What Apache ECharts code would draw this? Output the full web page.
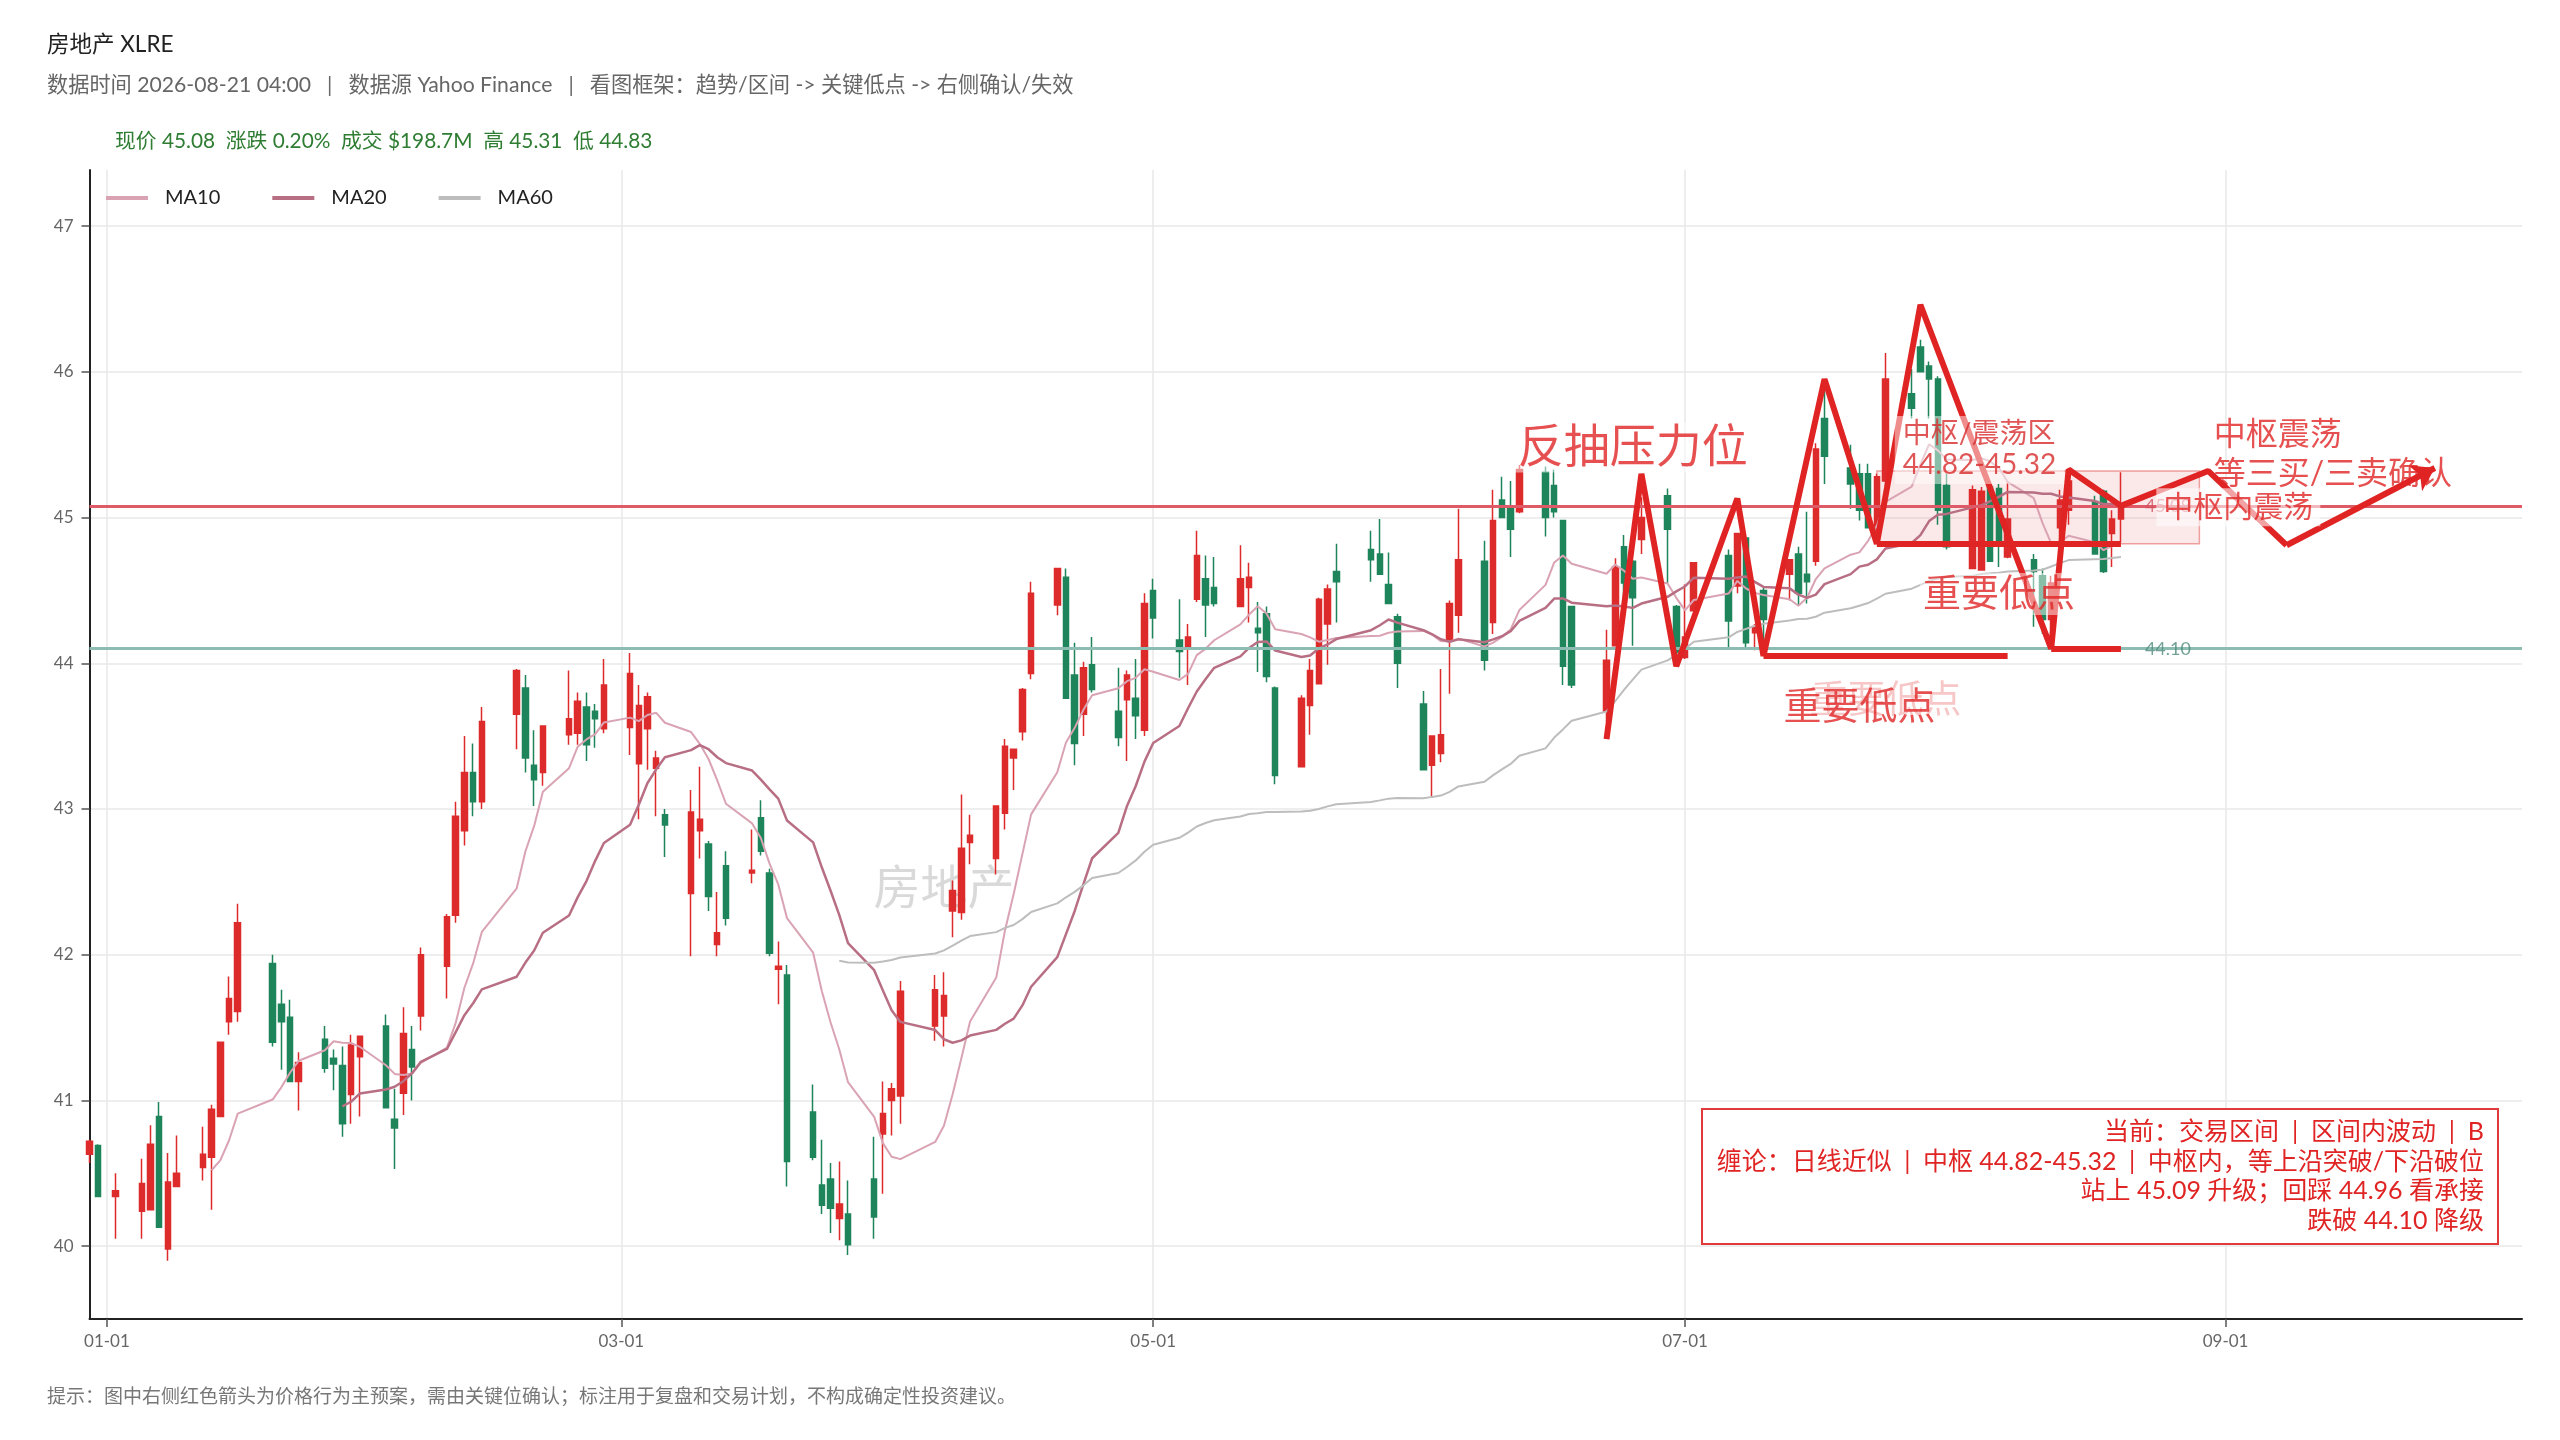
<!DOCTYPE html>
<html><head><meta charset="utf-8">
<script src="https://cdn.jsdelivr.net/npm/echarts@6/dist/echarts.min.js"></script>
<style>html,body{margin:0;padding:0;background:#fff}#c{width:2560px;height:1440px}</style>
</head><body><div id="c"></div>
<script>
// ---------- data ----------
const dates = ['2025-12-30','2025-12-31','2026-01-02','2026-01-05','2026-01-06','2026-01-07','2026-01-08','2026-01-09','2026-01-12','2026-01-13','2026-01-14','2026-01-15','2026-01-16','2026-01-20','2026-01-21','2026-01-22','2026-01-23','2026-01-26','2026-01-27','2026-01-28','2026-01-29','2026-01-30','2026-02-02','2026-02-03','2026-02-04','2026-02-05','2026-02-06','2026-02-09','2026-02-10','2026-02-11','2026-02-12','2026-02-13','2026-02-17','2026-02-18','2026-02-19','2026-02-20','2026-02-23','2026-02-24','2026-02-25','2026-02-26','2026-02-27','2026-03-02','2026-03-03','2026-03-04','2026-03-05','2026-03-06','2026-03-09','2026-03-10','2026-03-11','2026-03-12','2026-03-13','2026-03-16','2026-03-17','2026-03-18','2026-03-19','2026-03-20','2026-03-23','2026-03-24','2026-03-25','2026-03-26','2026-03-27','2026-03-30','2026-03-31','2026-04-01','2026-04-02','2026-04-06','2026-04-07','2026-04-08','2026-04-09','2026-04-10','2026-04-13','2026-04-14','2026-04-15','2026-04-16','2026-04-17','2026-04-20','2026-04-21','2026-04-22','2026-04-23','2026-04-24','2026-04-27','2026-04-28','2026-04-29','2026-04-30','2026-05-01','2026-05-04','2026-05-05','2026-05-06','2026-05-07','2026-05-08','2026-05-11','2026-05-12','2026-05-13','2026-05-14','2026-05-15','2026-05-18','2026-05-19','2026-05-20','2026-05-21','2026-05-22','2026-05-26','2026-05-27','2026-05-28','2026-05-29','2026-06-01','2026-06-02','2026-06-03','2026-06-04','2026-06-05','2026-06-08','2026-06-09','2026-06-10','2026-06-11','2026-06-12','2026-06-15','2026-06-16','2026-06-17','2026-06-18','2026-06-22','2026-06-23','2026-06-24','2026-06-25','2026-06-26','2026-06-29','2026-06-30','2026-07-01','2026-07-02','2026-07-06','2026-07-07','2026-07-08','2026-07-09','2026-07-10','2026-07-13','2026-07-14','2026-07-15','2026-07-16','2026-07-17','2026-07-20','2026-07-21','2026-07-22','2026-07-23','2026-07-24','2026-07-27','2026-07-28','2026-07-29','2026-07-30','2026-07-31','2026-08-03','2026-08-04','2026-08-05','2026-08-06','2026-08-07','2026-08-10','2026-08-11','2026-08-12','2026-08-13','2026-08-14','2026-08-17','2026-08-18','2026-08-19','2026-08-20'];
const opens = [40.63,40.69,40.34,40.24,40.25,40.89,39.98,40.41,40.54,40.61,40.89,41.54,41.61,41.94,41.66,41.57,41.13,41.42,41.29,41.24,41.04,41.30,41.51,40.87,41.05,41.35,41.58,41.92,42.27,42.85,43.25,43.05,43.65,43.83,43.30,43.25,43.51,43.52,43.70,43.67,43.55,43.56,43.31,43.55,43.28,42.96,42.42,42.85,42.76,42.07,42.61,42.56,42.94,42.56,41.90,41.86,40.92,40.42,40.46,40.19,40.22,40.46,40.77,41.00,41.03,41.51,41.58,42.30,42.29,42.77,42.66,42.97,43.35,43.53,43.93,44.40,44.59,43.92,43.65,43.99,43.67,43.75,43.76,43.54,44.50,44.16,44.11,44.44,44.58,44.52,44.39,44.52,44.24,44.34,43.83,43.29,43.71,43.86,44.27,44.63,44.78,44.75,44.54,44.32,43.72,43.30,43.38,44.16,44.33,44.70,44.28,45.12,45.07,45.04,45.31,45.22,44.98,44.39,43.67,44.12,44.80,44.70,44.85,45.15,44.39,44.04,44.36,44.74,44.53,44.86,44.21,44.50,44.61,44.75,44.61,44.70,45.68,45.34,45.30,45.30,44.92,45.25,45.85,46.17,46.04,45.95,45.22,44.65,44.64,45.21,45.20,44.73,44.71,44.60,44.30,44.93,45.05,45.11,45.18,44.89,44.99];
const closes = [40.72,40.34,40.38,40.43,40.70,40.13,40.44,40.50,40.63,40.94,41.40,41.70,42.22,41.40,41.54,41.13,41.26,41.22,41.25,40.84,41.38,41.44,40.95,40.81,41.46,41.23,42.00,42.26,42.95,43.25,43.05,43.60,43.95,43.35,43.20,43.57,43.62,43.74,43.44,43.62,43.85,43.93,43.71,43.77,43.35,42.89,42.98,42.93,42.40,42.15,42.25,42.58,42.71,42.01,41.92,40.58,40.61,40.28,40.26,40.29,40.01,40.20,40.91,41.08,41.75,41.76,41.72,42.44,42.73,42.82,43.02,43.43,43.41,43.82,44.48,44.65,43.76,43.45,43.97,43.82,43.49,43.92,43.64,44.41,44.31,44.08,44.18,44.74,44.40,44.41,44.58,44.59,44.21,43.91,43.23,43.76,43.95,44.44,44.51,44.56,44.71,44.61,44.41,44.00,43.27,43.50,43.51,44.41,44.71,44.02,44.98,45.00,44.92,45.33,45.00,45.04,43.98,43.85,44.02,44.66,44.55,44.45,45.00,44.92,44.02,44.18,44.69,44.29,44.89,44.14,44.25,44.30,44.71,44.48,44.56,45.47,45.42,45.23,45.05,44.93,45.28,45.95,45.75,46.00,45.95,45.05,44.80,45.19,45.18,44.70,44.84,44.99,44.63,44.30,44.55,45.12,45.25,44.75,44.63,44.99,45.08];
const lows = [40.57,40.34,40.05,40.05,40.25,40.13,39.90,40.41,40.45,40.25,40.89,41.45,41.54,41.37,41.21,41.13,40.93,41.19,41.07,40.75,40.84,40.89,40.95,40.53,40.90,41.00,41.48,41.70,42.22,42.75,42.95,43.00,43.41,43.25,43.02,43.16,43.44,43.44,43.33,43.42,43.52,43.37,42.93,43.27,42.95,42.67,41.99,42.66,42.30,41.99,42.20,42.49,42.68,41.99,41.66,40.41,40.59,40.22,40.09,40.04,39.94,40.05,40.36,40.76,40.84,41.41,41.37,42.12,42.24,42.62,42.55,42.86,43.13,43.47,43.89,44.33,43.76,43.30,43.50,43.80,43.43,43.33,43.48,43.50,44.17,43.90,43.85,44.42,44.18,44.39,44.39,44.28,43.94,43.87,43.17,43.29,43.51,43.86,43.99,44.28,44.56,44.61,44.41,43.83,43.27,43.08,43.32,43.79,44.21,43.95,44.20,45.00,44.73,45.03,44.87,45.00,43.85,43.83,43.60,44.12,44.40,44.12,44.75,44.55,44.00,44.03,44.36,44.11,44.48,44.11,44.09,44.15,44.43,44.40,44.41,44.67,45.23,45.06,44.98,44.93,44.85,45.20,45.68,46.00,45.68,44.95,44.78,44.65,44.64,44.70,44.66,44.72,44.25,44.20,44.10,44.66,44.95,44.75,44.62,44.66,44.83];
const highs = [40.73,40.70,40.50,40.60,40.83,40.99,40.64,40.76,40.82,40.97,41.40,41.85,42.35,42.00,41.76,41.69,41.33,41.51,41.35,41.37,41.45,41.44,41.59,41.08,41.64,41.51,42.05,42.28,43.05,43.50,43.45,43.70,43.96,43.92,43.54,43.57,43.95,43.80,43.80,43.72,44.03,44.07,43.85,43.80,43.40,43.00,43.13,43.29,42.78,42.43,42.71,42.86,43.06,42.59,42.09,41.93,41.11,40.73,40.57,40.58,40.45,40.75,41.13,41.12,41.82,41.86,41.88,42.51,43.10,42.96,43.02,43.48,43.41,43.83,44.56,44.65,44.65,44.14,44.01,44.18,43.97,43.95,44.03,44.48,44.58,44.44,44.27,44.91,44.74,44.73,44.81,44.69,44.42,44.39,43.84,43.78,44.03,44.45,44.54,44.82,44.91,44.99,44.76,44.34,43.81,43.50,43.96,44.43,45.06,44.84,45.19,45.28,45.25,45.36,45.35,45.33,44.98,44.39,44.23,44.72,44.88,44.71,45.14,45.20,44.40,44.54,44.69,44.78,44.89,44.86,44.27,44.52,44.71,44.80,45.04,45.51,45.88,45.50,45.37,45.37,45.30,46.13,46.02,46.22,46.07,45.97,45.30,45.22,45.21,45.23,45.23,45.25,44.75,44.65,44.60,45.19,45.32,45.15,45.19,45.05,45.31];

const axisStart = '2025-12-30';
const axisEnd = '2026-10-05';
const tickDates = ['2026-01-01','2026-03-01','2026-05-01','2026-07-01','2026-09-01'];
const maPeriods = [10, 20, 60];
const maNames = ['MA10','MA20','MA60'];

const currentPrice = 45.08;
const supportLevel = 44.10;
const zoneLow = 44.82, zoneHigh = 45.32;
const zoneStart = '2026-07-23', zoneEnd = '2026-08-29';

// main red zig-zag path (price-action script)
const pathDates  = ['2026-06-22','2026-06-26','2026-06-30','2026-07-07','2026-07-10','2026-07-17','2026-07-23','2026-07-28','2026-08-12','2026-08-14','2026-08-20','2026-08-30','2026-09-08'];
const pathValues = [43.48, 45.30, 43.98, 45.13, 44.05, 45.95, 44.82, 46.46, 44.10, 45.33, 45.08, 45.32, 44.81];
const arrowEnd = ['2026-09-25', 45.34];
// horizontal "key low" segments: [startDate, endDate, price]
const lowSegments = [['2026-07-10','2026-08-07',44.05],['2026-07-23','2026-08-20',44.82],['2026-08-12','2026-08-20',44.10]];

const SEP = ' \u2002|\u2002 ';
const BSEP = '\u2002|\u2002';
const titleText = '房地产 XLRE';
const subText = '数据时间 2026-08-21 04:00' + SEP + '数据源 Yahoo Finance' + SEP + '看图框架：趋势/区间 -> 关键低点 -> 右侧确认/失效';
const statsText = '现价 45.08  涨跌 0.20%  成交 $198.7M  高 45.31  低 44.83';
const footText = '提示：图中右侧红色箭头为价格行为主预案，需由关键位确认；标注用于复盘和交易计划，不构成确定性投资建议。';
const boxLines = ['当前：交易区间  |  区间内波动  |  B', '缠论：日线近似' + BSEP + '中枢 44.82-45.32' + BSEP + '中枢内，等上沿突破/下沿破位', '站上 45.09 升级；回踩 44.96 看承接', '跌破 44.10 降级'];

// ---------- build ----------
const FONT = 'Lato, "Noto Sans CJK SC", "Noto Sans", sans-serif';
const RED = '#e02424';
function pad(n){return n<10?'0'+n:''+n;}
const cats = [];
(function(){
  let t = Date.UTC(+axisStart.slice(0,4), +axisStart.slice(5,7)-1, +axisStart.slice(8,10));
  const e = Date.UTC(+axisEnd.slice(0,4), +axisEnd.slice(5,7)-1, +axisEnd.slice(8,10));
  while (t <= e) { const d = new Date(t); cats.push(d.getUTCFullYear()+'-'+pad(d.getUTCMonth()+1)+'-'+pad(d.getUTCDate())); t += 86400000; }
})();
const tickSet = new Set(tickDates);
const tickFn = (i, v) => tickSet.has(v);

const candleData = dates.map((d,i)=>[d, opens[i], closes[i], lows[i], highs[i]]);
function ma(n){
  const out = [];
  for (let i = n-1; i < closes.length; i++) {
    let s = 0; for (let k = i-n+1; k <= i; k++) s += closes[k];
    out.push([dates[i], +(s/n).toFixed(3)]);
  }
  return out;
}
const maColors = ['#d9a3b3','#b86f83','#bdbdbd'];
const maWidths = [2, 2.5, 2];

const pathData = pathDates.map((d,i)=>[d, pathValues[i]]);
const segLines = lowSegments.map(s=>[{coord:[s[0], s[2]]},{coord:[s[1], s[2]]}]);

function lbl(date, val, text, opt){
  return { value:[date, val], label: Object.assign({show:true, formatter:text, fontFamily:FONT, color:RED}, opt) };
}
const annotations = [
  lbl('2026-08-22', supportLevel, '44.10', {position:'right', distance:6, fontSize:18, color:'#4d8a7c'}),
  lbl('2026-08-22', currentPrice, '45.08', {position:'right', distance:6, fontSize:18, color:'#d05060'}),
  lbl('2026-06-25', 45.48, '反抽压力位', {position:'inside', fontSize:46, backgroundColor:'rgba(255,255,255,0.6)', padding:[2,4]}),
  lbl('2026-07-25', 45.464, '中枢/震荡区\n44.82-45.32', {position:'right', distance:0, fontSize:28, lineHeight:31, color:'#d82a2a', backgroundColor:'rgba(255,255,255,0.6)', padding:[3,8]}),
  lbl('2026-08-30', 45.437, '中枢震荡\n等三买/三卖确认', {position:'right', distance:5, fontSize:32, lineHeight:39}),
  lbl('2026-08-24', 45.07, '中枢内震荡', {position:'right', distance:0, fontSize:30, backgroundColor:'rgba(255,255,255,0.72)', padding:[4,7]}),
  lbl('2026-08-06', 44.476, '重要低点', {position:'inside', fontSize:38, backgroundColor:'rgba(255,255,255,0.6)', padding:[2,3]}),
  lbl('2026-07-24', 43.753, '重要低点', {position:'inside', fontSize:38, color:'rgba(224,36,36,0.32)'}),
  lbl('2026-07-21', 43.70, '重要低点', {position:'inside', fontSize:38})
];

const chart = echarts.init(document.getElementById('c'), null, {renderer:'canvas'});
const series = [
  {
    name:'K', type:'candlestick', data:candleData, encode:{x:0, y:[1,2,3,4]},
    barWidth:6, z:2,
    itemStyle:{color:'#dd2b2b', color0:'#1e855b', borderColor:'#dd2b2b', borderColor0:'#1e855b', borderWidth:1.5},
    markLine:{
      silent:true, symbol:'none', label:{show:false}, animation:false,
      data:[
        {yAxis: currentPrice, lineStyle:{color:'#de5a66', width:3, type:'solid'}},
        {yAxis: supportLevel, lineStyle:{color:'#8dbdb2', width:3, type:'solid'}}
      ]
    }
  }
];
maPeriods.forEach((n,i)=>{
  series.push({name:maNames[i], type:'line', data:ma(n), showSymbol:false, symbol:'none', z:3,
    lineStyle:{color:maColors[i], width:maWidths[i]}, itemStyle:{color:maColors[i]}, silent:true});
});
series.push({
  name:'path', type:'line', data:pathData, symbol:'none', z:5, silent:true,
  lineStyle:{color:RED, width:6},
  markArea:{silent:true, itemStyle:{color:'rgba(226,80,80,0.13)', borderColor:'rgba(226,90,90,0.55)', borderWidth:1.5},
    data:[[{coord:[zoneStart, zoneHigh]},{coord:[zoneEnd, zoneLow]}]]},
  markLine:{silent:true, animation:false, label:{show:false},
    data: segLines.concat([
      [{coord:[pathDates[pathDates.length-1], pathValues[pathValues.length-1]], symbol:'none'},{coord:arrowEnd, symbol:'arrow', symbolSize:22}]
    ]),
    symbol:'none', lineStyle:{color:RED, width:6, type:'solid'}}
});
series.push({name:'watermark', type:'scatter', z:1, silent:true, symbolSize:1, itemStyle:{color:'rgba(0,0,0,0)'},
  data:[lbl('2026-04-07', 42.45, '房地产', {position:'inside', fontSize:47, color:'rgba(150,150,150,0.45)'})]});
series.push({name:'notes', type:'scatter', z:10, silent:true, symbolSize:1, itemStyle:{color:'rgba(0,0,0,0)'}, data:annotations});

const option = {
  animation:false,
  backgroundColor:'#ffffff',
  textStyle:{fontFamily:FONT},
  title:[
    {text:titleText, left:47, top:33, padding:0, textStyle:{fontSize:22.5, fontWeight:'normal', color:'#222', fontFamily:FONT}},
    {text:subText, left:47, top:75, padding:0, textStyle:{fontSize:21.2, fontWeight:'normal', color:'#666', fontFamily:FONT}},
    {text:statsText, left:115, top:131, padding:0, textStyle:{fontSize:20.8, fontWeight:'normal', color:'#2e7d32', fontFamily:FONT}},
    {text:footText, left:47, top:1387, padding:0, textStyle:{fontSize:19, fontWeight:'normal', color:'#777', fontFamily:FONT}}
  ],
  legend:{data:maNames, left:106, top:188, icon:'rect', itemWidth:42, itemHeight:4, itemGap:52, padding:0,
    textStyle:{fontSize:20, color:'#222', fontFamily:FONT, padding:[0,0,0,12]}},
  grid:{left:89.5, right:38, top:170, bottom:121, containLabel:false},
  xAxis:{type:'category', data:cats, boundaryGap:false,
    axisLine:{show:true, lineStyle:{color:'#222', width:2}},
    axisTick:{show:true, interval:tickFn, length:8, lineStyle:{color:'#555', width:1.5}},
    axisLabel:{show:true, interval:tickFn, formatter:v=>v.slice(5), color:'#666', fontSize:17, margin:14, fontFamily:FONT},
    splitLine:{show:true, interval:tickFn, lineStyle:{color:'#e8e8e8', width:1.5}}
  },
  yAxis:{type:'value', min:39.5, max:47.385, splitNumber:8, minInterval:1, maxInterval:1, scale:true,
    axisLine:{show:true, lineStyle:{color:'#222', width:2}},
    axisTick:{show:true, length:8, lineStyle:{color:'#555', width:1.5}},
    axisLabel:{color:'#666', fontSize:17, margin:16, showMinLabel:false, showMaxLabel:false, fontFamily:FONT},
    splitLine:{show:true, showMinLine:false, showMaxLine:false, lineStyle:{color:'#e8e8e8', width:1.5}}
  },
  graphic:[
    {type:'rect', shape:{x:1702, y:1109, width:796, height:135}, style:{fill:'#fff', stroke:'#e03a3a', lineWidth:2}, z:20},
  ].concat(boxLines.map((t,i)=>({type:'text', z:21, style:{text:t, x:2484, y:1132+i*29.7, align:'right', verticalAlign:'middle', fill:RED, fontSize:25, fontFamily:FONT}}))),
  series: series
};
chart.setOption(option);
</script>
</body></html>
